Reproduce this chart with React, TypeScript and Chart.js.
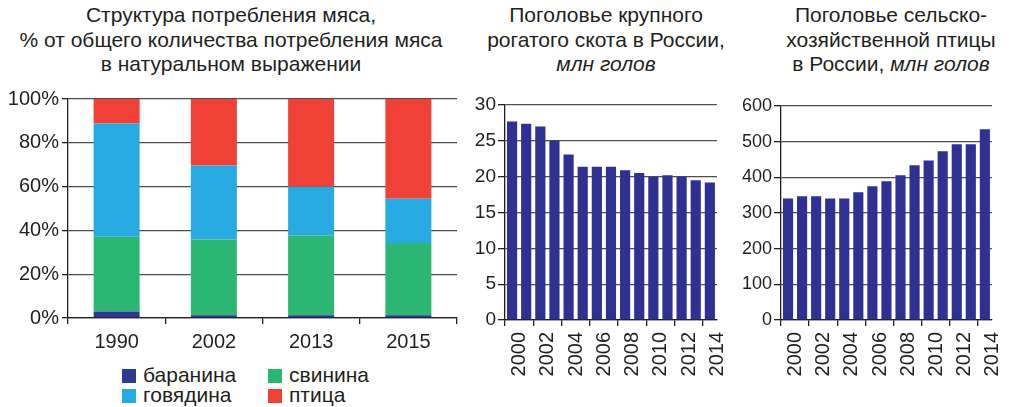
import React, { useEffect, useRef } from 'react';
import { Chart, registerables } from 'chart.js';

Chart.register(...registerables);

// ---------- data ----------
const meatYears = ['1990', '2002', '2013', '2015'];
const lamb = [3.0, 1.2, 1.2, 1.2];
const pork = [34.1, 34.7, 36.5, 33.1];
const beef = [51.7, 33.7, 22.2, 20.1];
const poultryShare = [11.2, 30.4, 40.1, 45.6];
const pctTicks = [0, 20, 40, 60, 80, 100];

const years = ['2000', '2001', '2002', '2003', '2004', '2005', '2006', '2007', '2008', '2009', '2010', '2011', '2012', '2013', '2014'];
const cattle = [27.7, 27.4, 27.0, 25.0, 23.1, 21.4, 21.4, 21.4, 20.9, 20.5, 20.0, 20.2, 20.0, 19.5, 19.2];
const cattleTicks = [0, 5, 10, 15, 20, 25, 30];
const birds = [341, 347, 347, 341, 341, 358, 375, 389, 406, 434, 447, 473, 493, 493, 535];
const birdTicks = [0, 100, 200, 300, 400, 500, 600];

// ---------- style ----------
const FONT = '"Liberation Sans", Arial, Helvetica, sans-serif';
const INK = '#231f20';
const GRID = '#4d4d4d';
const C_LAMB = '#2b3990';
const C_PORK = '#2bb673';
const C_BEEF = '#27aae1';
const C_POULTRY = '#ef4136';
const C_BAR = '#2e3192';

Chart.defaults.font.family = FONT;
Chart.defaults.color = INK;

function meatConfig(): any {
  return {
    type: 'bar',
    data: {
      labels: meatYears,
      datasets: [
        { label: 'баранина', data: lamb, backgroundColor: C_LAMB },
        { label: 'свинина', data: pork, backgroundColor: C_PORK },
        { label: 'говядина', data: beef, backgroundColor: C_BEEF },
        { label: 'птица', data: poultryShare, backgroundColor: C_POULTRY },
      ],
    },
    options: {
      responsive: false,
      animation: false,
      layout: { padding: { top: 15, right: 5, left: 0, bottom: 0 } },
      plugins: { legend: { display: false }, tooltip: { enabled: false } },
      datasets: { bar: { barPercentage: 0.473, categoryPercentage: 1 } },
      scales: {
        x: {
          stacked: true,
          grid: { drawOnChartArea: false, tickLength: 6, color: INK, lineWidth: 1.3 },
          border: { color: INK, width: 1.3 },
          ticks: { color: INK, font: { size: 20 }, padding: 6 },
          afterFit: (s: any) => { s.height = 40; },
        },
        y: {
          stacked: true,
          min: 0,
          max: 100,
          grid: { color: GRID, lineWidth: 1.3, tickLength: 6, tickColor: INK },
          border: { color: INK, width: 1.3 },
          ticks: { color: INK, font: { size: 20 }, padding: 3, callback: (v: any) => v + '%' },
          afterBuildTicks: (s: any) => { s.ticks = pctTicks.map((v) => ({ value: v })); },
          afterFit: (s: any) => { s.width = 68; },
        },
      },
    },
  };
}

function yearConfig(values: number[], yTicks: number[], yWidth: number, yFont: number, xFont: number): any {
  return {
    type: 'bar',
    data: {
      labels: years,
      datasets: [{ data: values, backgroundColor: C_BAR }],
    },
    options: {
      responsive: false,
      animation: false,
      layout: { padding: { top: 15, right: 4, left: 0, bottom: 0 } },
      plugins: { legend: { display: false }, tooltip: { enabled: false } },
      datasets: { bar: { barPercentage: 0.72, categoryPercentage: 1 } },
      scales: {
        x: {
          grid: {
            drawOnChartArea: false,
            tickLength: 6,
            lineWidth: 1.3,
            tickColor: (ctx: any) => (typeof ctx.index === 'number' && ctx.index % 2 === 0 ? INK : 'rgba(0,0,0,0)'),
          },
          border: { color: INK, width: 1.3 },
          ticks: {
            color: INK,
            font: { size: xFont },
            autoSkip: false,
            minRotation: 90,
            maxRotation: 90,
            padding: 6,
            labelOffset: 7.6,
            callback: (_v: any, i: number) => (i % 2 === 0 ? years[i] : ''),
          },
          afterFit: (s: any) => { s.height = 60; },
        },
        y: {
          min: yTicks[0],
          max: yTicks[yTicks.length - 1],
          grid: { color: GRID, lineWidth: 1.3, tickLength: 7, tickColor: INK },
          border: { color: INK, width: 1.3 },
          ticks: { color: INK, font: { size: yFont }, padding: 2 },
          afterBuildTicks: (s: any) => { s.ticks = yTicks.map((v) => ({ value: v })); },
          afterFit: (s: any) => { s.width = yWidth; },
        },
      },
    },
  };
}

function ChartBox(props: { left: number; top: number; width: number; height: number; build: () => any }) {
  const ref = useRef<HTMLCanvasElement>(null);
  useEffect(() => {
    const chart = new Chart(ref.current as HTMLCanvasElement, props.build());
    return () => chart.destroy();
  }, []);
  return (
    <canvas
      ref={ref}
      width={props.width}
      height={props.height}
      style={{ position: 'absolute', left: props.left, top: props.top, width: props.width, height: props.height }}
    />
  );
}

const titleStyle = (center: number): React.CSSProperties => ({
  position: 'absolute',
  left: center - 240,
  width: 480,
  top: 3,
  textAlign: 'center',
  fontSize: 21,
  lineHeight: '24.5px',
  color: INK,
  whiteSpace: 'nowrap',
});

const legendItems = [
  { label: 'баранина', color: C_LAMB, x: 122, y: 369 },
  { label: 'говядина', color: C_BEEF, x: 122, y: 389 },
  { label: 'свинина', color: C_PORK, x: 268, y: 369 },
  { label: 'птица', color: C_POULTRY, x: 268, y: 389 },
];

export default function App() {
  return (
    <div
      style={{
        position: 'absolute',
        left: 0,
        top: 0,
        width: 1015,
        height: 407,
        background: '#fff',
        fontFamily: FONT,
        color: INK,
        overflow: 'hidden',
      }}
    >
      <div style={titleStyle(231)}>
        Структура потребления мяса,
        <br />
        % от общего количества потребления мяса
        <br />в натуральном выражении
      </div>
      <div style={titleStyle(606)}>
        Поголовье крупного
        <br />
        рогатого скота в России,
        <br />
        <i>млн голов</i>
      </div>
      <div style={titleStyle(891)}>
        Поголовье сельско-
        <br />
        хозяйственной птицы
        <br />в России, <i>млн голов</i>
      </div>

      <ChartBox left={0} top={84} width={462} height={274} build={meatConfig} />
      <ChartBox left={460} top={90} width={280} height={290} build={() => yearConfig(cattle, cattleTicks, 45, 19, 20)} />
      <ChartBox left={735} top={91} width={280} height={289} build={() => yearConfig(birds, birdTicks, 46, 18, 20)} />

      {legendItems.map((it) => (
        <div key={it.label}>
          <div
            style={{ position: 'absolute', left: it.x, top: it.y, width: 14, height: 14, background: it.color }}
          />
          <div
            style={{
              position: 'absolute',
              left: it.x + 21,
              top: it.y - 5,
              fontSize: 21,
              lineHeight: '21px',
              whiteSpace: 'nowrap',
            }}
          >
            {it.label}
          </div>
        </div>
      ))}
    </div>
  );
}
